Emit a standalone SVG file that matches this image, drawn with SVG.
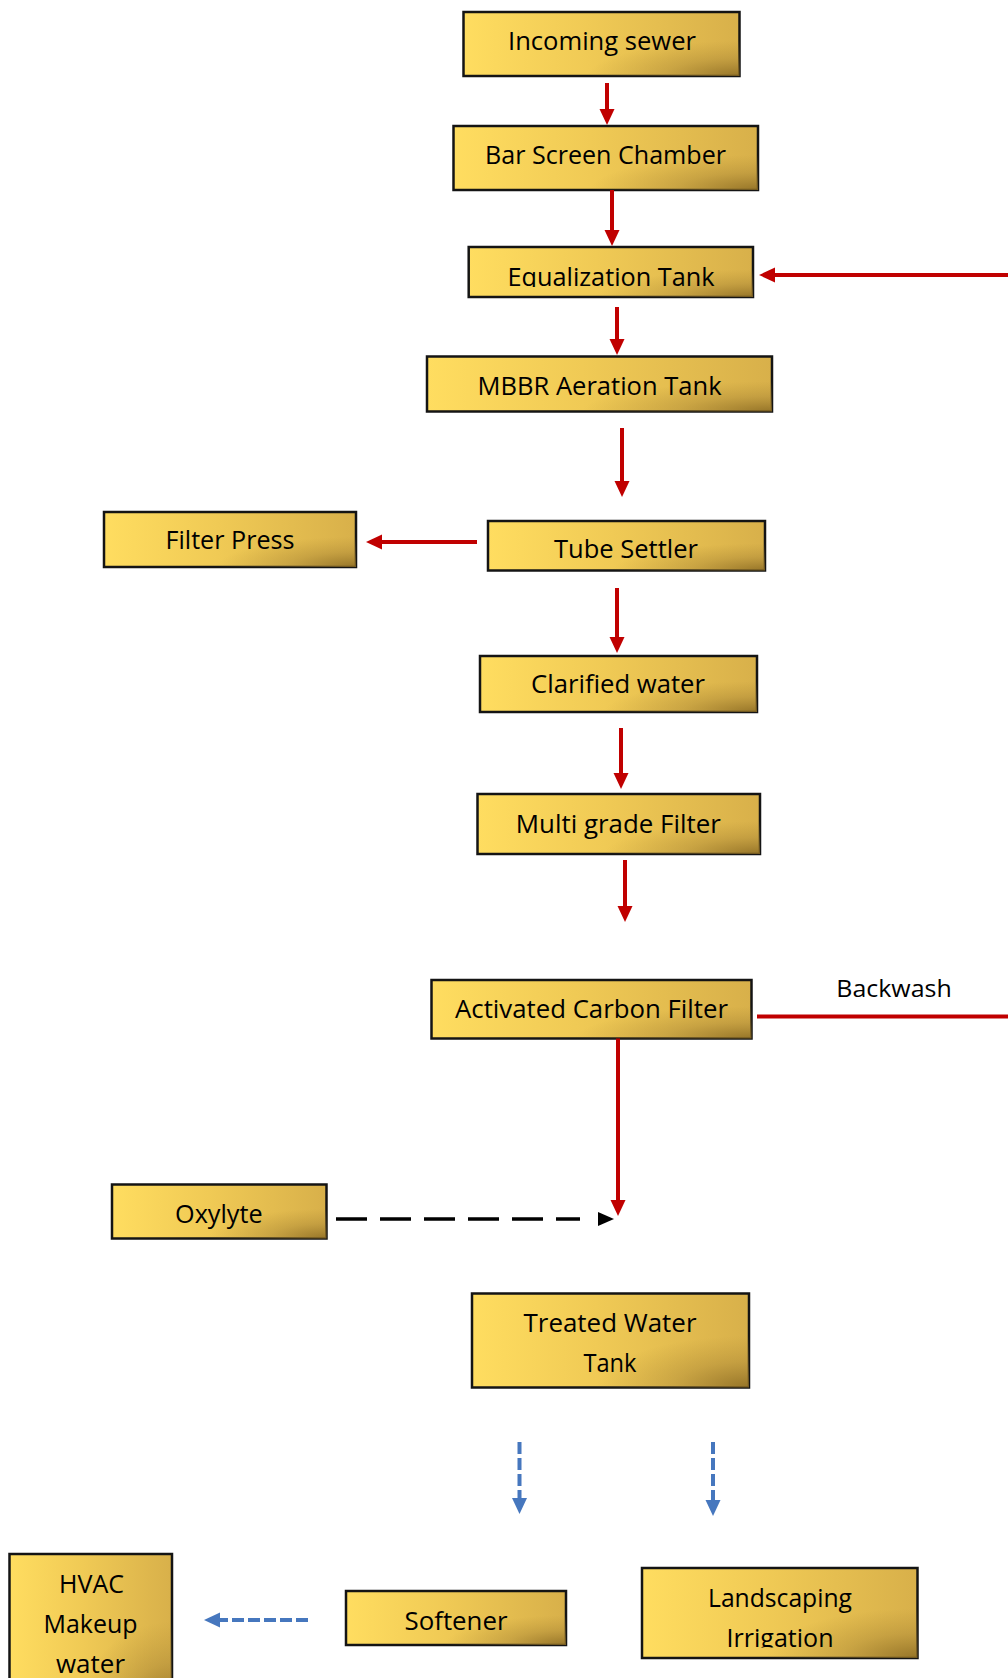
<svg xmlns="http://www.w3.org/2000/svg" width="1008" height="1678" viewBox="0 0 1008 1678">
<style>
.box{stroke:#141414;stroke-width:2.5}
.t{font-family:"Open Sans","Noto Sans","Liberation Sans",sans-serif;font-size:25px;fill:#000;text-anchor:middle}
.red{stroke:#C00000;stroke-width:4;fill:none}
.blue{stroke:#4677BE;stroke-width:4;fill:none;stroke-dasharray:12 4}
.blk{stroke:#000;stroke-width:3.5;fill:none;stroke-dasharray:31 13}
</style>
<defs>
<linearGradient id="gold" x1="0" y1="0" x2="1" y2="0">
<stop offset="0" stop-color="#FFDD60"/>
<stop offset="0.45" stop-color="#F0CA55"/>
<stop offset="1" stop-color="#D8B04A"/>
</linearGradient>
<radialGradient id="shade" cx="1" cy="1" r="0.55" gradientUnits="objectBoundingBox">
<stop offset="0" stop-color="#8A6A22" stop-opacity="0.85"/>
<stop offset="0.5" stop-color="#9C7A2E" stop-opacity="0.35"/>
<stop offset="1" stop-color="#A88530" stop-opacity="0"/>
</radialGradient>
<marker id="ar" markerUnits="userSpaceOnUse" markerWidth="18" markerHeight="18" viewBox="0 -9 18 18" refX="0" refY="0" orient="auto">
<path d="M0,-7.5 L16,0 L0,7.5 z" fill="#C00000"/>
</marker>
<marker id="ab" markerUnits="userSpaceOnUse" markerWidth="18" markerHeight="18" viewBox="0 -9 18 18" refX="0" refY="0" orient="auto">
<path d="M0,-7.5 L16,0 L0,7.5 z" fill="#4677BE"/>
</marker>
<clipPath id="clipEq"><rect x="460" y="240" width="300" height="47"/></clipPath>
<clipPath id="clipLs"><rect x="640" y="1560" width="280" height="87.5"/></clipPath>
</defs>

<g id="incoming-sewer">
<rect class="box" x="463.5" y="12" width="276" height="64" fill="url(#gold)"/>
<rect x="463.5" y="12" width="276" height="64" fill="url(#shade)"/>
<text class="t" x="602" y="50" textLength="188" lengthAdjust="spacingAndGlyphs">Incoming sewer</text>
</g>
<g id="bar-screen-chamber">
<rect class="box" x="453.5" y="126" width="304.5" height="64" fill="url(#gold)"/>
<rect x="453.5" y="126" width="304.5" height="64" fill="url(#shade)"/>
<text class="t" x="605.5" y="164" textLength="241" lengthAdjust="spacingAndGlyphs">Bar Screen Chamber</text>
</g>
<g id="equalization-tank">
<rect class="box" x="468.7" y="247" width="284.3" height="50" fill="url(#gold)"/>
<rect x="468.7" y="247" width="284.3" height="50" fill="url(#shade)"/>
<text class="t" x="611" y="286" textLength="207" lengthAdjust="spacingAndGlyphs" clip-path="url(#clipEq)">Equalization Tank</text>
</g>
<g id="mbbr-aeration-tank">
<rect class="box" x="427" y="356.5" width="345" height="55" fill="url(#gold)"/>
<rect x="427" y="356.5" width="345" height="55" fill="url(#shade)"/>
<text class="t" x="599.6" y="395" textLength="244" lengthAdjust="spacingAndGlyphs">MBBR Aeration Tank</text>
</g>
<g id="filter-press">
<rect class="box" x="104" y="512" width="252" height="55" fill="url(#gold)"/>
<rect x="104" y="512" width="252" height="55" fill="url(#shade)"/>
<text class="t" x="230" y="549" textLength="129" lengthAdjust="spacingAndGlyphs">Filter Press</text>
</g>
<g id="tube-settler">
<rect class="box" x="488" y="521" width="277" height="49.5" fill="url(#gold)"/>
<rect x="488" y="521" width="277" height="49.5" fill="url(#shade)"/>
<text class="t" x="626" y="558" textLength="144" lengthAdjust="spacingAndGlyphs">Tube Settler</text>
</g>
<g id="clarified-water">
<rect class="box" x="480" y="656" width="277" height="56" fill="url(#gold)"/>
<rect x="480" y="656" width="277" height="56" fill="url(#shade)"/>
<text class="t" x="618" y="693" textLength="174" lengthAdjust="spacingAndGlyphs">Clarified water</text>
</g>
<g id="multi-grade-filter">
<rect class="box" x="477.5" y="794" width="282.5" height="60" fill="url(#gold)"/>
<rect x="477.5" y="794" width="282.5" height="60" fill="url(#shade)"/>
<text class="t" x="618.3" y="833" textLength="205" lengthAdjust="spacingAndGlyphs">Multi grade Filter</text>
</g>
<g id="activated-carbon-filter">
<rect class="box" x="431.5" y="980" width="320" height="58.5" fill="url(#gold)"/>
<rect x="431.5" y="980" width="320" height="58.5" fill="url(#shade)"/>
<text class="t" x="591.5" y="1017.5" textLength="273" lengthAdjust="spacingAndGlyphs">Activated Carbon Filter</text>
</g>
<g id="oxylyte">
<rect class="box" x="112" y="1184.5" width="214.5" height="54" fill="url(#gold)"/>
<rect x="112" y="1184.5" width="214.5" height="54" fill="url(#shade)"/>
<text class="t" x="218.8" y="1222.5" textLength="87.5" lengthAdjust="spacingAndGlyphs">Oxylyte</text>
</g>
<g id="treated-water-tank">
<rect class="box" x="472" y="1293.5" width="277" height="94" fill="url(#gold)"/>
<rect x="472" y="1293.5" width="277" height="94" fill="url(#shade)"/>
<text class="t" x="610" y="1331.5" textLength="173" lengthAdjust="spacingAndGlyphs">Treated Water</text>
<text class="t" x="610" y="1371.5" textLength="53" lengthAdjust="spacingAndGlyphs">Tank</text>
</g>
<g id="softener">
<rect class="box" x="346" y="1591" width="220" height="54" fill="url(#gold)"/>
<rect x="346" y="1591" width="220" height="54" fill="url(#shade)"/>
<text class="t" x="456" y="1630" textLength="103" lengthAdjust="spacingAndGlyphs">Softener</text>
</g>
<g id="landscaping-irrigation">
<rect class="box" x="642" y="1568" width="275.5" height="90" fill="url(#gold)"/>
<rect x="642" y="1568" width="275.5" height="90" fill="url(#shade)"/>
<text class="t" x="780" y="1606.5" textLength="144" lengthAdjust="spacingAndGlyphs">Landscaping</text>
<text class="t" x="780" y="1646.5" textLength="107" lengthAdjust="spacingAndGlyphs" clip-path="url(#clipLs)">Irrigation</text>
</g>
<g id="hvac-makeup-water">
<rect class="box" x="9.5" y="1554" width="162.5" height="150" fill="url(#gold)"/>
<rect x="9.5" y="1554" width="162.5" height="150" fill="url(#shade)"/>
<text class="t" x="91.5" y="1592.5" textLength="65" lengthAdjust="spacingAndGlyphs">HVAC</text>
<text class="t" x="90.5" y="1633" textLength="94" lengthAdjust="spacingAndGlyphs">Makeup</text>
<text class="t" x="90.5" y="1673" textLength="69" lengthAdjust="spacingAndGlyphs">water</text>
</g>

<text id="backwash-label" class="t" x="894" y="997" font-size="23" style="font-size:23px" textLength="115.5" lengthAdjust="spacingAndGlyphs">Backwash</text>

<g id="connectors">
<path class="red" d="M607,83 V109" marker-end="url(#ar)"/>
<path class="red" d="M612,190 V230" marker-end="url(#ar)"/>
<path class="red" d="M1010,275 H775" marker-end="url(#ar)"/>
<path class="red" d="M617,307 V339" marker-end="url(#ar)"/>
<path class="red" d="M622,428 V481" marker-end="url(#ar)"/>
<path class="red" d="M477,542 H382" marker-end="url(#ar)"/>
<path class="red" d="M617,588 V637" marker-end="url(#ar)"/>
<path class="red" d="M621,728 V773" marker-end="url(#ar)"/>
<path class="red" d="M625,860 V906" marker-end="url(#ar)"/>
<path class="red" d="M618,1038.5 V1200" marker-end="url(#ar)"/>
<path class="red" d="M757,1016.5 H1010"/>
<path class="blk" d="M336,1219 H580"/>
<path d="M598,1212 L614,1219 L598,1226 z" fill="#000"/>
<path class="blue" d="M519.5,1442 V1498" marker-end="url(#ab)"/>
<path class="blue" d="M713,1442 V1500" marker-end="url(#ab)"/>
<path class="blue" d="M308,1620 H220" marker-end="url(#ab)"/>
</g>
</svg>
